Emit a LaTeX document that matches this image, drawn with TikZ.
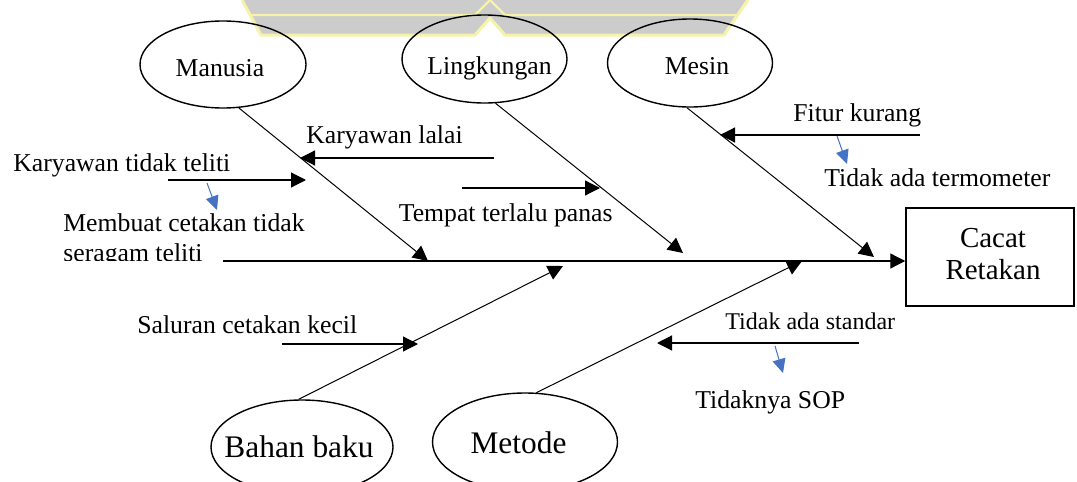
\documentclass[tikz,border=0pt]{standalone}
\usepackage{fontspec}
\setmainfont{Liberation Serif}
\usetikzlibrary{shapes.geometric,arrows.meta}
\definecolor{bluearr}{HTML}{4472C4}
\definecolor{wmgray}{RGB}{204,204,204}
\definecolor{wmyellow}{RGB}{246,242,170}
\begin{document}
\begin{tikzpicture}[x=0.5pt,y=-0.5pt,
  cat/.style={ellipse, draw, line width=0.7pt, inner sep=0pt},
  bone/.style={line width=0.5pt, -{Triangle[length=7.5pt,width=7.5pt]}},
  sub/.style={line width=0.6pt, -{Triangle[length=7.5pt,width=7.5pt]}},
  hint/.style={draw=bluearr, line width=0.5pt, -{Triangle[length=7pt,width=6.5pt,fill=bluearr]}},
  lbl/.style={font=\fontsize{12.85pt}{15pt}\selectfont, inner sep=0pt},
  smalllbl/.style={font=\fontsize{12pt}{14pt}\selectfont, inner sep=0pt},
  biglbl/.style={font=\fontsize{15.7pt}{18pt}\selectfont, inner sep=0pt},
  boxlbl/.style={font=\fontsize{14.5pt}{17pt}\selectfont, inner sep=0pt}]
\clip (0,0) rectangle (1077,482);
\fill[white] (0,0) rectangle (1077,482);
% faint watermark
\fill[wmgray] (243,0) -- (746,0) -- (723,34) -- (505,34) -- (490,17) -- (475,34) -- (262,34) -- cycle;
\draw[wmyellow, line width=1.5pt, line join=round] (242,0) -- (261,35) -- (475,35) -- (490,18) -- (505,35) -- (724,35) -- (748,0);
\draw[wmyellow, line width=1.2pt, line join=round] (250,15) -- (475,15) -- (490,0) -- (505,15) -- (738,15);

% category ellipses
\node[cat, minimum width=83pt, minimum height=43.5pt] (man) at (223,64.5) {};
\node[lbl, anchor=base] (manT) at (220,76) {Manusia};
\node[cat, minimum width=82.5pt, minimum height=44pt] (ling) at (484.5,59) {};
\node[lbl, anchor=base] (lingT) at (489.5,75) {Lingkungan};
\node[cat, minimum width=82.5pt, minimum height=44pt] (mes) at (690,63) {};
\node[lbl, anchor=base] (mesT) at (697,75) {Mesin};
\node[cat, minimum width=91pt, minimum height=47pt] (bah) at (302,447) {};
\node[biglbl, anchor=base] (bahT) at (299,457) {Bahan baku};
\node[cat, minimum width=92.5pt, minimum height=49pt] (met) at (525,442) {};
\node[biglbl, anchor=base] (metT) at (518.5,453) {Metode};

% effect box
\node[draw, line width=0.75pt, minimum width=84pt, minimum height=49pt, inner sep=0pt] (box) at (990,257) {};
\node[boxlbl, anchor=base] (c1) at (993,247.5) {Cacat};
\node[boxlbl, anchor=base] (c2) at (993,279.5) {Retakan};

% spine
\coordinate (sp0) at (223,261);
\draw[line width=0.65pt, -{Triangle[length=7.5pt,width=7.5pt]}] (sp0) -- (sp0 -| box.west);

% bones
\coordinate (tM) at (428,261);
\coordinate (tL) at (683,253);
\coordinate (tS) at (874,257);
\coordinate (tB) at (563,266);
\coordinate (tD) at (802,261);
\draw[bone] (man.-70) -- (tM);
\draw[bone] (ling.-76) -- (tL);
\draw[bone] (mes.-94) -- (tS);
\draw[bone] (bah.94) -- (tB);
\draw[bone] (met.77) -- (tD);

% sub-cause arrows
\coordinate (a1s) at (494,158); \coordinate (a1e) at (300,158);
\coordinate (a2s) at (168,180); \coordinate (a2e) at (306,180);
\coordinate (a3s) at (462,188); \coordinate (a3e) at (600,188);
\coordinate (a4s) at (920,135); \coordinate (a4e) at (720,135);
\coordinate (a5s) at (282,344); \coordinate (a5e) at (418,344);
\coordinate (a6s) at (859,343); \coordinate (a6e) at (657,343);
\draw[sub] (a1s) -- (a1e);
\draw[sub] (a2s) -- (a2e);
\draw[sub] (a3s) -- (a3e);
\draw[sub] (a4s) -- (a4e);
\draw[sub] (a5s) -- (a5e);
\draw[sub] (a6s) -- (a6e);

% blue hint arrows
\coordinate (b1s) at (207,183); \coordinate (b1e) at (217,210);
\coordinate (b2s) at (837,136); \coordinate (b2e) at (847,164);
\coordinate (b3s) at (775,346); \coordinate (b3e) at (783,373);
\draw[hint] (b1s) -- (b1e);
\draw[hint] (b2s) -- (b2e);
\draw[hint] (b3s) -- (b3e);

% labels
\node[lbl, anchor=base west] (t1) at (306,143) {Karyawan lalai};
\node[lbl, anchor=base west] (t2) at (13,171) {Karyawan tidak teliti};
\node[lbl, anchor=base west] (t3a) at (63,231) {Membuat cetakan tidak};
\begin{scope}
\clip (0,0) rectangle (1077,260);
\node[lbl, anchor=base west] (t3b) at (63,261) {seragam teliti};
\end{scope}
\node[lbl, anchor=base east] (t4) at (613,221) {Tempat terlalu panas};
\node[lbl, anchor=base west] (t5) at (793,121) {Fitur kurang};
\node[lbl, anchor=base west] (t6) at (824,186) {Tidak ada termometer};
\node[lbl, anchor=base west] (t7) at (137,333) {Saluran cetakan kecil};
\node[smalllbl, anchor=base west] (t8) at (725,329.5) {Tidak ada standar};
\node[lbl, anchor=base west] (t9) at (695,408) {Tidaknya SOP};
\end{tikzpicture}
\end{document}
